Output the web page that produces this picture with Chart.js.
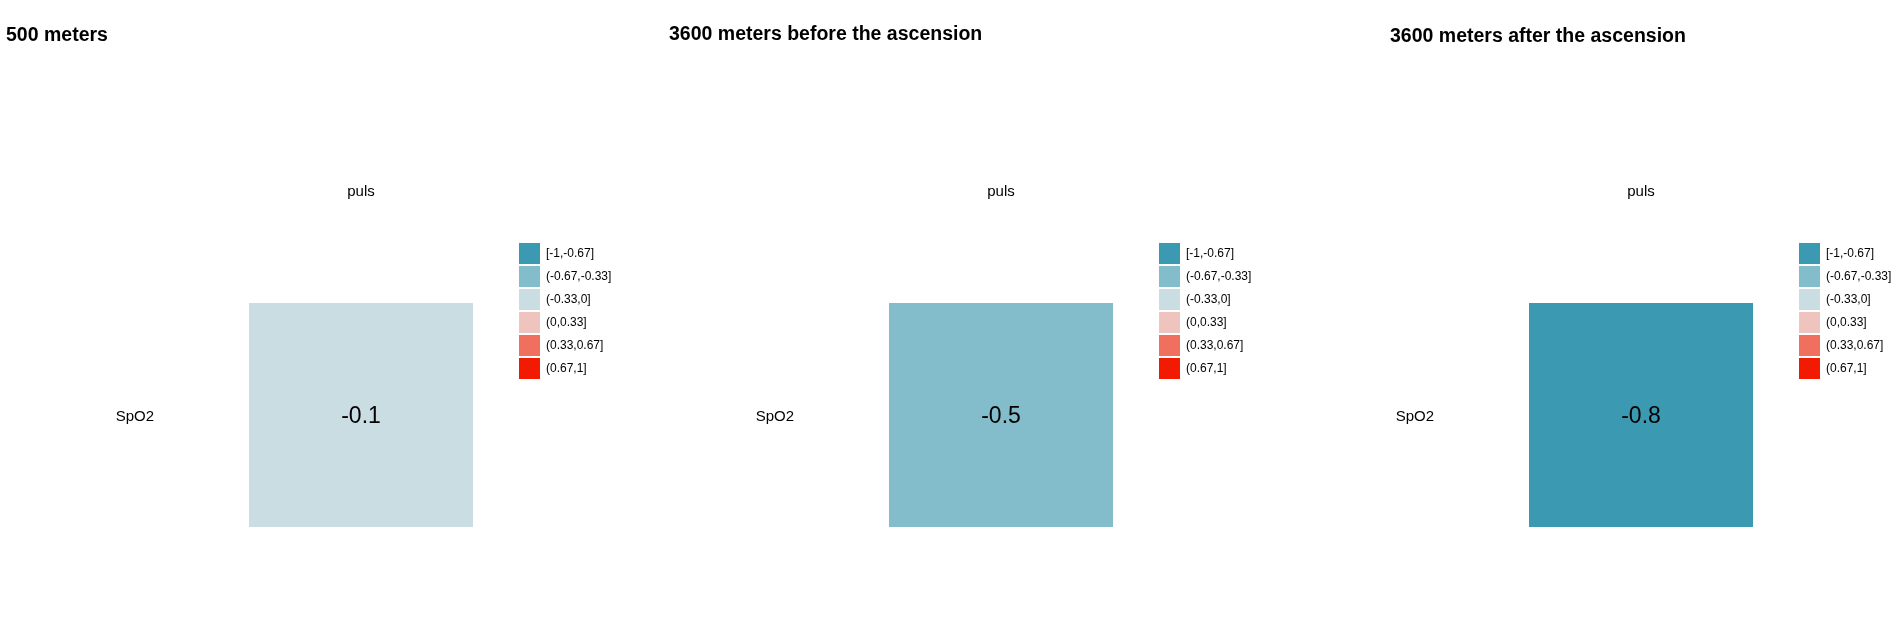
<!DOCTYPE html>
<html>
<head>
<meta charset="utf-8">
<script src="https://cdn.jsdelivr.net/npm/chart.js@4"></script>
<style>
  html, body { margin: 0; padding: 0; background: #fff; overflow: hidden; }
  .panel { position: absolute; top: 0; }
</style>
</head>
<body>
<div class="panel" style="left:0px"><canvas id="c0" width="621" height="617"></canvas></div>
<div class="panel" style="left:640px"><canvas id="c1" width="621" height="617"></canvas></div>
<div class="panel" style="left:1280px"><canvas id="c2" width="621" height="617"></canvas></div>
<script>
// correlation matrix parts
const columns = ['puls'];
const rows = ['SpO2'];
const titles = ['500 meters', '3600 meters before the ascension', '3600 meters after the ascension'];

// SpO2 vs puls, one value per row
const corr500 = [-0.1];
const corrBefore = [-0.5];
const corrAfter = [-0.8];

// legend bins
const binLabels = ['[-1,-0.67]', '(-0.67,-0.33]', '(-0.33,0]', '(0,0.33]', '(0.33,0.67]', '(0.67,1]'];
const binBreaks = [-1, -0.67, -0.33, 0, 0.33, 0.67, 1];
const binColors = ['#3B9AB2', '#83BCCA', '#CADDE2', '#EFC4BE', '#F06F5F', '#F21A00'];

const FONT = "'Liberation Sans', Arial, sans-serif";
const CELL_LEFT = 249, CELL_TOP = 303, CELL_BOTTOM = 527;
const LEGEND_TOP = 243;
const TITLE_SIZE = 19.5;

function binColor(r) {
    for (let i = 0; i < binColors.length; i++) {
        if (r <= binBreaks[i + 1]) return binColors[i];
    }
    return binColors[binColors.length - 1];
}

// write the value in the middle of each cell
const cellLabels = {
    id: 'cellLabels',
    afterDatasetsDraw(chart) {
        const ctx = chart.ctx;
        ctx.save();
        ctx.font = '23px ' + FONT;
        ctx.fillStyle = '#000';
        ctx.textAlign = 'center';
        ctx.textBaseline = 'middle';
        chart.data.datasets.forEach((ds, i) => {
            chart.getDatasetMeta(i).data.forEach((bar, j) => {
                const p = bar.getCenterPoint();
                ctx.fillText(ds.corr[j].toFixed(1), p.x, p.y + 2);
            });
        });
        ctx.restore();
    }
};

function createPanel(id, title, corr, titleX, titleTop) {
    const ctx = document.getElementById(id).getContext('2d');
    const titleHeight = titleTop + TITLE_SIZE * 1.2;
    return new Chart(ctx, {
        type: 'bar',
        data: {
            labels: columns,
            datasets: rows.map((row, i) => ({
                label: row,
                data: columns.map(() => 1),
                corr: [corr[i]],
                backgroundColor: columns.map(() => binColor(corr[i])),
                borderWidth: 0,
                xAxisID: 'x',
                yAxisID: 'v',
                barPercentage: 1,
                categoryPercentage: 1
            }))
        },
        options: {
            responsive: false,
            animation: false,
            layout: {
                padding: { left: titleX, right: 0, top: 0, bottom: 617 - CELL_BOTTOM }
            },
            scales: {
                x: {
                    type: 'category',
                    position: 'top',
                    stacked: true,
                    offset: true,
                    grid: { display: false, drawTicks: false },
                    border: { display: false },
                    ticks: { padding: 102, color: '#000', font: { family: FONT, size: 15 } },
                    afterFit: s => {
                        s.height = CELL_TOP - titleHeight;
                        s.paddingLeft = s.paddingRight = 0;
                    }
                },
                y: {
                    type: 'category',
                    labels: rows,
                    position: 'left',
                    offset: true,
                    grid: { display: false, drawTicks: false },
                    border: { display: false },
                    ticks: { padding: 95, labelOffset: 2, color: '#000', font: { family: FONT, size: 15 } },
                    afterFit: s => {
                        s.width = CELL_LEFT - titleX;
                        s.paddingTop = s.paddingBottom = 0;
                    }
                },
                v: {
                    type: 'linear',
                    axis: 'y',
                    position: 'left',
                    display: false,
                    stacked: true,
                    min: 0,
                    max: rows.length
                },
                gap: {
                    type: 'linear',
                    axis: 'y',
                    position: 'right',
                    grid: { display: false, drawTicks: false },
                    border: { display: false },
                    ticks: { display: false },
                    afterFit: s => { s.width = 44; }
                }
            },
            plugins: {
                title: {
                    display: true,
                    text: title,
                    align: 'start',
                    color: '#000',
                    font: { family: FONT, size: TITLE_SIZE, weight: 'bold' },
                    padding: { top: titleTop, bottom: 0 }
                },
                legend: {
                    position: 'right',
                    align: 'start',
                    maxWidth: 104,
                    onClick: () => {},
                    title: {
                        display: true,
                        text: '',
                        font: { family: FONT, size: 12 },
                        padding: { top: LEGEND_TOP - 12 * 1.2 - 2, bottom: 0 }
                    },
                    labels: {
                        boxWidth: 21,
                        boxHeight: 21,
                        padding: 2,
                        color: '#000',
                        font: { family: FONT, size: 12 },
                        generateLabels: () => binLabels.map((t, i) => ({
                            text: t,
                            fillStyle: binColors[i],
                            strokeStyle: binColors[i],
                            fontColor: '#000',
                            lineWidth: 0,
                            hidden: false,
                            index: i
                        }))
                    }
                },
                tooltip: { enabled: false }
            }
        },
        plugins: [cellLabels]
    });
}

createPanel('c0', titles[0], corr500, 6, 24);
createPanel('c1', titles[1], corrBefore, 29, 23);
createPanel('c2', titles[2], corrAfter, 110, 25);
</script>
</body>
</html>
